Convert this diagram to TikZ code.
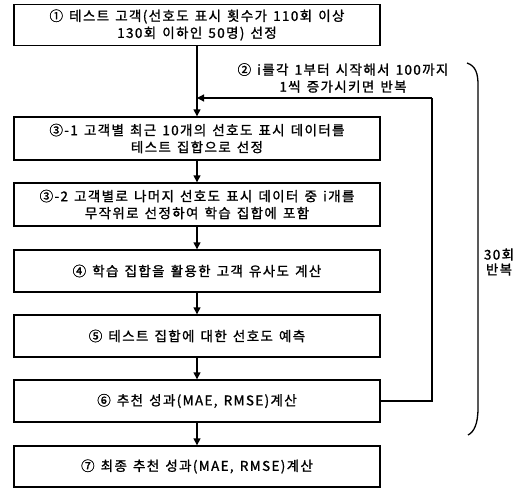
\documentclass[tikz,border=0pt]{standalone}
\usepackage{fontspec}
\setmainfont{Noto Sans CJK KR}[FakeBold=1.2,LetterSpace=10,WordSpace=1.4]
\usetikzlibrary{arrows.meta}
\begin{document}
\begin{tikzpicture}[x=1pt,y=-1pt,
  stepbox/.style={draw=black,line width=1.4pt,minimum width=366pt,minimum height=41pt,align=center,font=\fontsize{13.5}{17}\selectfont,inner sep=0pt},
  flow/.style={line width=1.4pt,-{Triangle[length=7pt,width=7pt]}},
  loopline/.style={line width=1.2pt}]
\useasboundingbox (0,0) rectangle (527,491);
\node[stepbox] (b1) at (197,25) {① 테스트 고객(선호도 표시 횟수가 110회 이상\\130회 이하인 50명) 선정};
\node[stepbox,minimum height=43pt] (b31) at (197,138.5) {③-1 고객별 최근 10개의 선호도 표시 데이터를\\테스트 집합으로 선정};
\node[stepbox,minimum height=43pt] (b32) at (197,204.5) {③-2 고객별로 나머지 선호도 표시 데이터 중 i개를\\무작위로 선정하여 학습 집합에 포함};
\node[stepbox,minimum height=42pt] (b4) at (197,271) {④ 학습 집합을 활용한 고객 유사도 계산};
\node[stepbox,minimum height=42pt] (b5) at (197,336) {⑤ 테스트 집합에 대한 선호도 예측};
\node[stepbox,minimum height=42pt] (b6) at (197,401) {⑥ 추천 성과(MAE, RMSE)계산};
\node[stepbox,minimum height=41pt] (b7) at (197,466.5) {⑦ 최종 추천 성과(MAE, RMSE)계산};
\coordinate (j) at (197,98);
\coordinate (c1) at (432,401);
\coordinate (c2) at (432,98);
\draw[flow] (b1) -- (b31);
\draw[flow] (b31) -- (b32);
\draw[flow] (b32) -- (b4);
\draw[flow] (b4) -- (b5);
\draw[flow] (b5) -- (b6);
\draw[flow] (b6) -- (b7);
\draw[loopline] (b6.east) -- (c1) -- (c2);
\draw[loopline,-{Triangle[length=7pt,width=7pt]}] (c2) -- (j);
\node[align=center,font=\fontsize{13.5}{17}\selectfont,inner sep=0pt] (lab2) at (343,78) {② i를각 1부터 시작해서 100까지\\1씩 증가시키면 반복};
\coordinate (bt) at (467,63);
\coordinate (bb) at (468,435);
\draw[line width=1.3pt] (bt) .. controls (476,66) and (478,74) .. (478,85) -- (478,408) .. controls (478,424) and (474,432) .. (bb);
\node[align=center,font=\fontsize{13.5}{15}\selectfont,inner sep=0pt] (rep) at (499,262) {30회\\반복};
\end{tikzpicture}
\end{document}
